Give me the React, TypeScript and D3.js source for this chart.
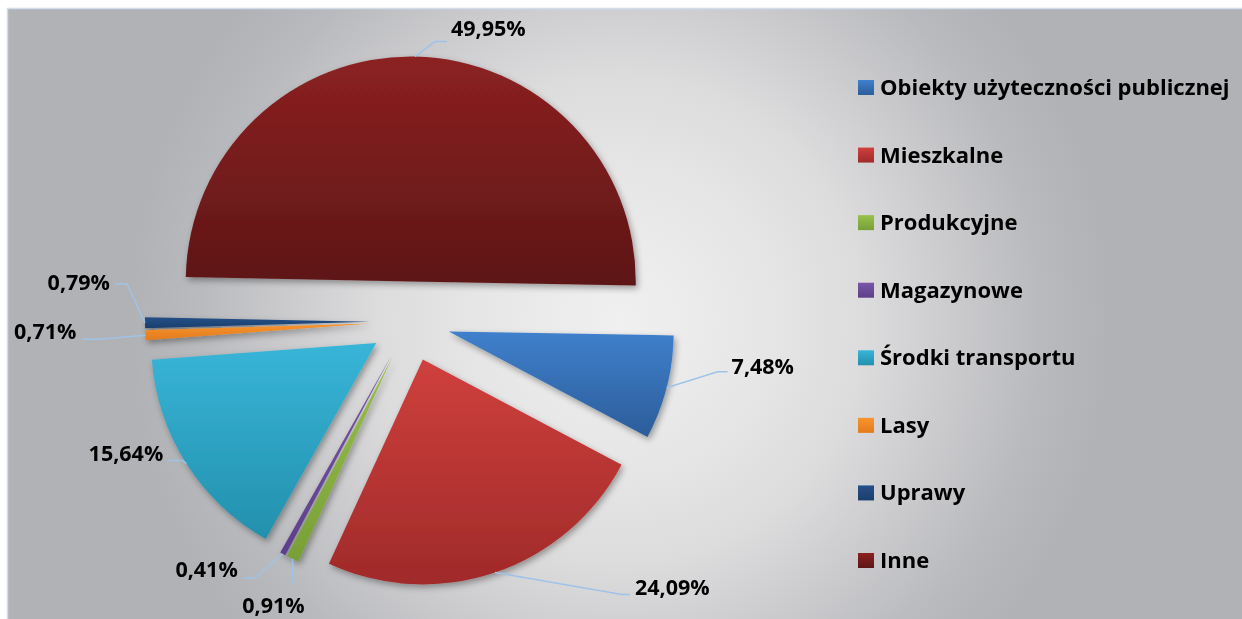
import React from 'react';
import * as d3 from 'd3';

const categories = [
  'Obiekty użyteczności publicznej',
  'Mieszkalne',
  'Produkcyjne',
  'Magazynowe',
  'Środki transportu',
  'Lasy',
  'Uprawy',
  'Inne',
];
const values = [7.48, 24.09, 0.91, 0.41, 15.64, 0.71, 0.79, 49.95];
const colorsTop = ['#3f80cc', '#cf403c', '#98c04a', '#7a56a8', '#38b5d8', '#f8942f', '#245088', '#8c2121'];
const colorsBottom = ['#2c5d9a', '#a02a2a', '#789f38', '#5c3f8a', '#2390ad', '#e27b1b', '#1b3f6c', '#5d1616'];

// label layout (offsets of leader elbow from the slice's outer mid point)
const labelElbow: [number, number][] = [[51, -16], [127, 22], [0, 24], [-28, 24], [-4, -3], [-45, 4], [-18, -39], [20, -15]];
const labelTail = [10, 8, 0, -12, -14, -18, -12, 12];
const labelAnchor = ['start', 'start', 'middle', 'end', 'end', 'end', 'end', 'start'];
const labelDx = [4, 5, -19, -5, -5, -6, -5, 4];
const labelDy = [2, 0, 30, -1, 0, 0, 6, -6];

const W = 1242;
const H = 619;
const cx = 410;
const cy = 321.5;
const R = 225;
const explode = 40;
const startDeg = 91;
const FONT = "'Open Sans', Lato, 'DejaVu Sans', sans-serif";
const FS_LABEL = 21.5;
const FS_LEGEND = 22;

const fmt = (v: number) => v.toFixed(2).replace('.', ',') + '%';

export default function App() {
  const start = (startDeg * Math.PI) / 180;
  const pie = d3
    .pie<number>()
    .sort(null)
    .value((d) => d)
    .startAngle(start)
    .endAngle(start + 2 * Math.PI);
  const arcs = pie(values);
  const arcGen = d3.arc<d3.PieArcDatum<number>>().innerRadius(0).outerRadius(R);

  const legendY = d3.scaleLinear().domain([0, categories.length - 1]).range([95, 568]);

  return (
    <div style={{ position: 'fixed', left: 0, top: 0, width: W, height: H, overflow: 'hidden', background: '#fff' }}>
      <svg width={W} height={H} style={{ display: 'block' }}>
        <defs>
          <radialGradient id="bg" gradientUnits="userSpaceOnUse" cx={620} cy={320} r={490}>
            <stop offset="0" stopColor="#f0f0f0" />
            <stop offset="0.3" stopColor="#e6e6e7" />
            <stop offset="0.5" stopColor="#dcdcdd" />
            <stop offset="0.68" stopColor="#cbcbce" />
            <stop offset="0.86" stopColor="#b9babd" />
            <stop offset="1" stopColor="#b1b2b6" />
          </radialGradient>
          {values.map((_, i) => (
            <linearGradient key={i} id={`g${i}`} x1="0" y1="0" x2="0" y2="1">
              <stop offset="0" stopColor={colorsTop[i]} />
              <stop offset="1" stopColor={colorsBottom[i]} />
            </linearGradient>
          ))}
          <filter id="shadow" x="-20%" y="-20%" width="140%" height="140%">
            <feDropShadow dx="2" dy="3" stdDeviation="3" floodColor="#000" floodOpacity="0.35" />
          </filter>
        </defs>
        <rect x={0} y={0} width={W} height={H} fill="#ffffff" />
        <rect x={7.5} y={8.5} width={W} height={H} fill="url(#bg)" stroke="#d2ddeb" strokeWidth={1.5} />

        <g filter="url(#shadow)">
          {arcs.map((a, i) => {
            const mid = (a.startAngle + a.endAngle) / 2;
            const dx = Math.sin(mid) * explode;
            const dy = -Math.cos(mid) * explode;
            return (
              <path
                key={i}
                d={arcGen(a) || ''}
                transform={`translate(${cx + dx},${cy + dy})`}
                fill={`url(#g${i})`}
              />
            );
          })}
        </g>

        {arcs.map((a, i) => {
          const mid = (a.startAngle + a.endAngle) / 2;
          const px = cx + Math.sin(mid) * (R + explode);
          const py = cy - Math.cos(mid) * (R + explode);
          const ex = px + labelElbow[i][0];
          const ey = py + labelElbow[i][1];
          const tx = ex + labelTail[i];
          const line = d3.line()([
            [px, py],
            [ex, ey],
            [tx, ey],
          ]);
          return (
            <g key={i}>
              <path d={line || ''} fill="none" stroke="#9fc3e8" strokeWidth={1.5} />
              <text
                x={tx + labelDx[i]}
                y={ey + labelDy[i]}
                textAnchor={labelAnchor[i] as any}
                fontFamily={FONT}
                fontWeight={700}
                fontSize={FS_LABEL}
                fill="#000"
              >
                {fmt(values[i])}
              </text>
            </g>
          );
        })}

        {categories.map((c, i) => {
          const by = legendY(i);
          return (
            <g key={c}>
              <rect x={858} y={by - 15} width={16} height={15} fill={`url(#g${i})`} />
              <text x={880} y={by} fontFamily={FONT} fontWeight={700} fontSize={FS_LEGEND} fill="#000">
                {c}
              </text>
            </g>
          );
        })}
      </svg>
    </div>
  );
}
